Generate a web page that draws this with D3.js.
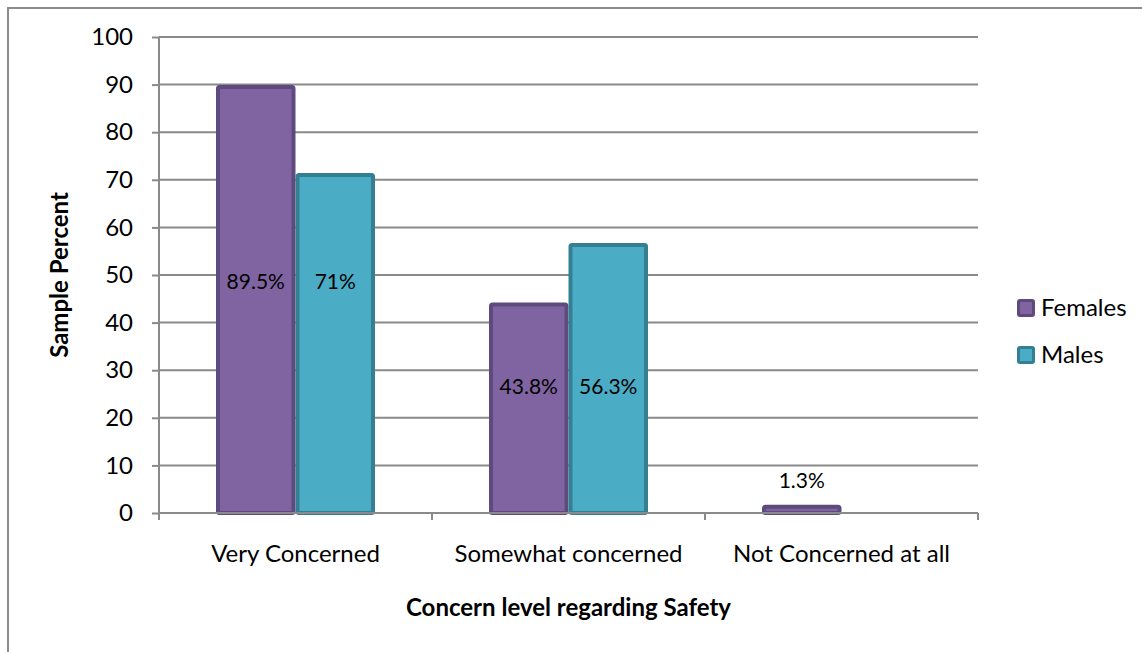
<!DOCTYPE html>
<html>
<head>
<meta charset="utf-8">
<script src="https://cdn.jsdelivr.net/npm/d3@7"></script>
<style>
  body { margin: 0; background: #fff; }
  svg { font-family: Lato, "Open Sans", sans-serif; }
</style>
</head>
<body>
<div id="vis"></div>
<script>
// Chart data
const CATEGORIES = ["Very Concerned", "Somewhat concerned", "Not Concerned at all"];
const SERIES = ["Females", "Males"];
const FEMALES = [89.5, 43.8, 1.3];
const MALES = [71, 56.3, 0];
const LABELS_F = ["89.5%", "43.8%", "1.3%"];
const LABELS_M = ["71%", "56.3%", ""];
const Y_TICKS = [0, 10, 20, 30, 40, 50, 60, 70, 80, 90, 100];

// Frame
const FRAME_WIDTH = 1142;
const FRAME_HEIGHT = 652;
const MARGINS = {left: 159, right: 164, top: 37, bottom: 139};
const VIS_WIDTH = FRAME_WIDTH - MARGINS.left - MARGINS.right;
const VIS_HEIGHT = FRAME_HEIGHT - MARGINS.top - MARGINS.bottom;

const FILLS = ["#8064A2", "#4BACC6"];
const STROKES = ["#5F4A7D", "#357F93"];
const GRID = "#8a8a8a";
const FONT_SIZE = "24px";

const FRAME = d3.select("#vis")
                .append("svg")
                .attr("width", FRAME_WIDTH)
                .attr("height", FRAME_HEIGHT);

// outer chart border (runs off right and bottom)
FRAME.append("path")
     .attr("d", "M8,660 L8,8 L1150,8")
     .attr("fill", "none")
     .attr("stroke", "#8c8c8c")
     .attr("stroke-width", 2);

const G = FRAME.append("g")
               .attr("transform", "translate(" + MARGINS.left + "," + MARGINS.top + ")");

// Scales
const X_SCALE = d3.scaleBand()
                  .domain(CATEGORIES)
                  .range([0, VIS_WIDTH]);

const X_INNER = d3.scaleBand()
                  .domain(SERIES)
                  .range([0, X_SCALE.bandwidth()])
                  .paddingInner(0)
                  .paddingOuter(0.717);

const Y_SCALE = d3.scaleLinear()
                  .domain([0, 100])
                  .range([VIS_HEIGHT, 0]);

// Gridlines
G.append("g")
 .selectAll("line")
 .data(Y_TICKS.slice(1))
 .enter()
 .append("line")
   .attr("x1", 0)
   .attr("x2", VIS_WIDTH)
   .attr("y1", (d) => Y_SCALE(d))
   .attr("y2", (d) => Y_SCALE(d))
   .attr("stroke", GRID)
   .attr("stroke-width", 2);

// Bars
const rows = [];
CATEGORIES.forEach((c, i) => {
  rows.push({cat: c, s: 0, v: FEMALES[i], label: LABELS_F[i]});
  rows.push({cat: c, s: 1, v: MALES[i], label: LABELS_M[i]});
});

G.append("g")
 .selectAll("rect")
 .data(rows.filter((d) => d.v > 0))
 .enter()
 .append("rect")
   .attr("x", (d) => X_SCALE(d.cat) + X_INNER(SERIES[d.s]) + 2)
   .attr("y", (d) => Y_SCALE(d.v))
   .attr("width", X_INNER.bandwidth() - 4)
   .attr("height", (d) => VIS_HEIGHT - Y_SCALE(d.v))
   .attr("rx", 1.5)
   .attr("fill", (d) => FILLS[d.s])
   .attr("stroke", (d) => STROKES[d.s])
   .attr("stroke-width", 4);

// Data labels: tall bars get labels inside, small ones above
const GROUP_LEVEL = [48.5, 26.5];
G.append("g")
 .selectAll("text")
 .data(rows.filter((d) => d.label !== ""))
 .enter()
 .append("text")
   .attr("x", (d) => X_SCALE(d.cat) + X_INNER(SERIES[d.s]) + X_INNER.bandwidth() / 2)
   .attr("y", (d) => {
     const i = CATEGORIES.indexOf(d.cat);
     return i < GROUP_LEVEL.length ? Y_SCALE(GROUP_LEVEL[i]) : Y_SCALE(d.v) - 26;
   })
   .attr("dy", "0.35em")
   .attr("text-anchor", "middle")
   .attr("font-size", "21px")
   .attr("fill", "#000")
   .text((d) => d.label);

// Y axis
const yAxis = G.append("g")
               .call(d3.axisLeft(Y_SCALE).tickValues(Y_TICKS).tickSize(7).tickPadding(19))
               .attr("font-size", FONT_SIZE)
               .attr("font-family", "Lato, 'Open Sans', sans-serif");
yAxis.select(".domain").attr("stroke", GRID).attr("stroke-width", 2).attr("d", "M0,0V" + VIS_HEIGHT);
yAxis.selectAll(".tick line").attr("stroke", GRID).attr("stroke-width", 2);
yAxis.selectAll(".tick text").attr("fill", "#000");

// X axis with ticks at category boundaries
const xAxis = G.append("g")
               .attr("transform", "translate(0," + VIS_HEIGHT + ")");
xAxis.append("line")
     .attr("x1", 0).attr("x2", VIS_WIDTH)
     .attr("stroke", GRID).attr("stroke-width", 2);
xAxis.selectAll("line.tk")
     .data(d3.range(CATEGORIES.length + 1))
     .enter()
     .append("line")
       .attr("class", "tk")
       .attr("x1", (i) => i * X_SCALE.step())
       .attr("x2", (i) => i * X_SCALE.step())
       .attr("y1", 0).attr("y2", 7)
       .attr("stroke", GRID).attr("stroke-width", 2);
xAxis.selectAll("text")
     .data(CATEGORIES)
     .enter()
     .append("text")
       .attr("x", (d) => X_SCALE(d) + X_SCALE.bandwidth() / 2)
       .attr("y", 49)
       .attr("text-anchor", "middle")
       .attr("font-size", FONT_SIZE)
       .text((d) => d);

// Axis titles
G.append("text")
 .attr("x", VIS_WIDTH / 2)
 .attr("y", VIS_HEIGHT + 103)
 .attr("text-anchor", "middle")
 .attr("font-size", FONT_SIZE)
 .attr("font-weight", "bold")
 .text("Concern level regarding Safety");

G.append("text")
 .attr("transform", "translate(" + (-91) + "," + (VIS_HEIGHT / 2) + ") rotate(-90)")
 .attr("text-anchor", "middle")
 .attr("font-size", FONT_SIZE)
 .attr("font-weight", "bold")
 .text("Sample Percent");

// Legend
const LEG = FRAME.append("g")
                 .attr("transform", "translate(1017,299)");
const legItems = LEG.selectAll("g")
                    .data(SERIES)
                    .enter()
                    .append("g")
                      .attr("transform", (d, i) => "translate(0," + (i * 47) + ")");
legItems.append("rect")
        .attr("x", 1.5).attr("y", 1.5)
        .attr("width", 15).attr("height", 15)
        .attr("rx", 1.5)
        .attr("fill", (d, i) => FILLS[i])
        .attr("stroke", (d, i) => STROKES[i])
        .attr("stroke-width", 3);
legItems.append("text")
        .attr("x", 24)
        .attr("y", 9)
        .attr("dy", "0.35em")
        .attr("font-size", FONT_SIZE)
        .text((d) => d);
</script>
</body>
</html>
